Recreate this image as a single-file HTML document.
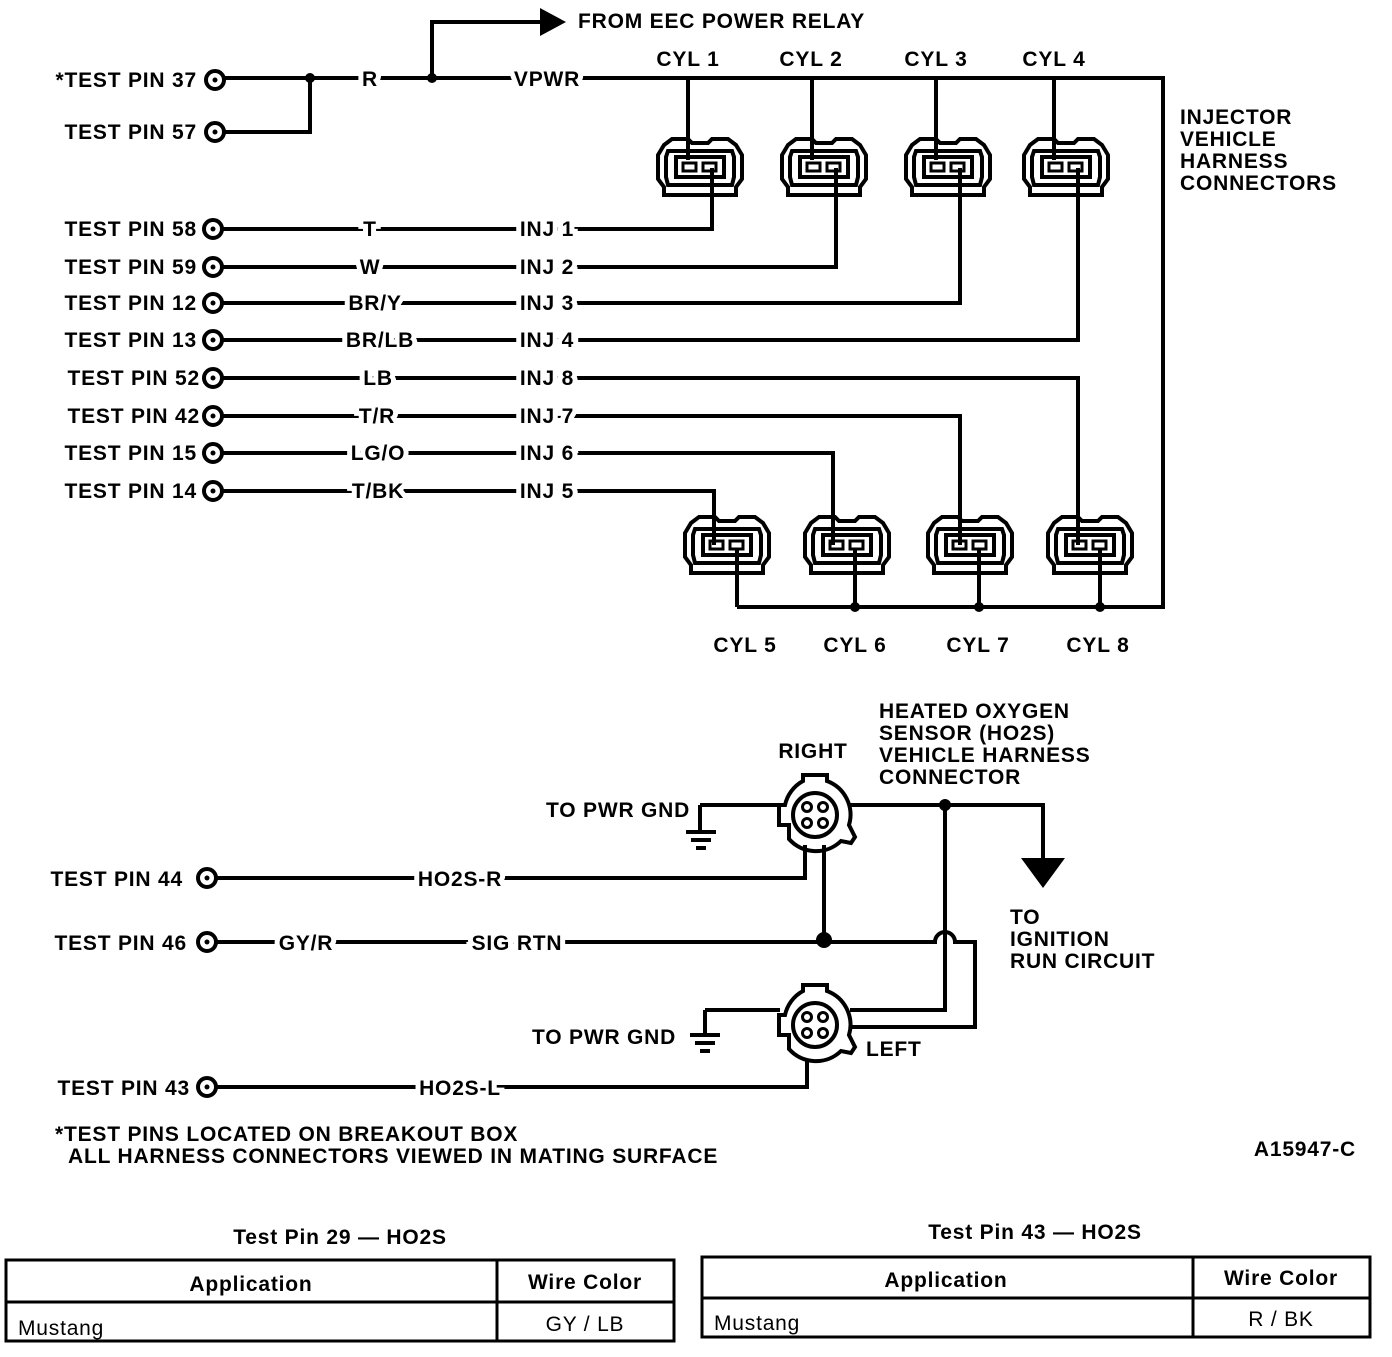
<!DOCTYPE html>
<html><head><meta charset="utf-8"><style>
body{margin:0;background:#fff}
svg text{font-family:"Liberation Sans",sans-serif;font-weight:bold;font-size:21px;letter-spacing:0.8px;fill:#000}
.lb{paint-order:stroke;stroke:#fff;stroke-width:10px}
</style></head><body>
<svg width="1392" height="1352" viewBox="0 0 1392 1352" xmlns="http://www.w3.org/2000/svg">
<defs>
<g id="pin"><circle r="9" fill="#fff" stroke="#000" stroke-width="4"/><circle r="2.5" fill="#000"/></g>
<g id="inj" fill="none" stroke="#000" stroke-width="4">
<path d="M-36,-22 L-28,-28 L-12,-28 L-8,-24 L8,-24 L12,-28 L28,-28 L36,-22 L42,-12 L42,12 L36,20 L36,28 L-36,28 L-36,20 L-42,12 L-42,-12 Z"/>
<path d="M-32,-16 L32,-16 L34,-10 L34,10 L32,18 L-32,18 L-34,10 L-34,-10 Z"/>
<rect x="-24" y="-10" width="48" height="20"/>
<rect x="-17" y="-4" width="13" height="8" stroke-width="3"/>
<rect x="3" y="-4" width="13" height="8" stroke-width="3"/>
</g>
<g id="ho2" fill="none" stroke="#000" stroke-width="4">
<path d="M-12,-34 L-12,-40 L12,-40 L12,-34 A36,36 0 0 1 34,10 L40,22 L36,28 L26,26 A36,36 0 0 1 -26,24 L-26,10 L-36,10 L-36,-10 L-30,-10 A36,36 0 0 1 -12,-34 Z"/>
<circle r="22"/>
<circle cx="-8" cy="-8" r="4.5" stroke-width="3"/><circle cx="8" cy="-8" r="4.5" stroke-width="3"/>
<circle cx="-8" cy="8" r="4.5" stroke-width="3"/><circle cx="8" cy="8" r="4.5" stroke-width="3"/>
</g>
</defs>
<g fill="none" stroke="#000" stroke-width="4">
<path d="M224,78 H1163 V607 H737"/>
<path d="M310,78 V132 H224"/>
<path d="M432,78 V22 H540"/>
<path d="M688,78 V160 M812,78 V160 M936,78 V160 M1054,78 V160"/>
<path d="M222,229 H712 V168 M222,267 H836 V168 M222,303 H960 V168 M222,340 H1078 V168"/>
<path d="M222,378 H1078 V545 M222,416 H960 V545 M222,453 H833 V545 M222,491 H714 V545"/>
<path d="M737,548 V607 M855,548 V607 M979,548 V607 M1100,548 V607"/>
<path d="M700,805 H780 M700,805 V832 M686,832 H716 M691,840 H711 M696,848 H706"/>
<path d="M850,805 H1043 V860"/>
<path d="M216,878 H805 V845"/>
<path d="M824,845 V940"/>
<path d="M216,942 H935 A10,10 0 0 1 955,942 H975 V1027 H850"/>
<path d="M945,805 V1010 H850"/>
<path d="M705,1010 H780 M705,1010 V1035 M690,1035 H720 M695,1043 H715 M700,1051 H710"/>
<path d="M216,1087 H807 V1060"/>
</g>
<path d="M540,8 L566,22 L540,36 Z"/>
<path d="M1021,858 L1065,858 L1043,888 Z"/>
<g fill="#000"><circle cx="310" cy="78" r="5"/><circle cx="432" cy="78" r="5"/>
<circle cx="855" cy="607" r="5"/><circle cx="979" cy="607" r="5"/><circle cx="1100" cy="607" r="5"/>
<circle cx="945" cy="805" r="6"/><circle cx="824" cy="940" r="8"/></g>
<use href="#inj" x="700" y="167"/><use href="#inj" x="824" y="167"/><use href="#inj" x="948" y="167"/><use href="#inj" x="1066" y="167"/>
<use href="#inj" x="727" y="545"/><use href="#inj" x="847" y="545"/><use href="#inj" x="970" y="545"/><use href="#inj" x="1090" y="545"/>
<use href="#ho2" x="815" y="815"/><use href="#ho2" x="815" y="1025"/>
<use href="#pin" x="215" y="80"/><use href="#pin" x="215" y="132"/>
<use href="#pin" x="213" y="229"/><use href="#pin" x="213" y="267"/><use href="#pin" x="213" y="303"/><use href="#pin" x="213" y="340"/>
<use href="#pin" x="213" y="378"/><use href="#pin" x="213" y="416"/><use href="#pin" x="213" y="453"/><use href="#pin" x="213" y="491"/>
<use href="#pin" x="207" y="878"/><use href="#pin" x="207" y="942"/><use href="#pin" x="207" y="1087"/>
<g text-anchor="end">
<text x="197" y="87">*TEST PIN 37</text><text x="197" y="139">TEST PIN 57</text>
<text x="197" y="236">TEST PIN 58</text><text x="197" y="274">TEST PIN 59</text>
<text x="197" y="310">TEST PIN 12</text><text x="197" y="347">TEST PIN 13</text>
<text x="200" y="385">TEST PIN 52</text><text x="200" y="423">TEST PIN 42</text>
<text x="197" y="460">TEST PIN 15</text><text x="197" y="498">TEST PIN 14</text>
<text x="183" y="886">TEST PIN 44</text><text x="187" y="950">TEST PIN 46</text><text x="190" y="1095">TEST PIN 43</text>
</g>
<g class="lb" text-anchor="middle">
<text x="370" y="86">R</text><text x="547" y="86">VPWR</text>
<text x="370" y="236">T</text><text x="370" y="274">W</text><text x="375" y="310">BR/Y</text><text x="380" y="347">BR/LB</text>
<text x="378" y="385">LB</text><text x="377" y="423">T/R</text><text x="378" y="460">LG/O</text><text x="378" y="498">T/BK</text>
<text x="547" y="236">INJ 1</text><text x="547" y="274">INJ 2</text><text x="547" y="310">INJ 3</text><text x="547" y="347">INJ 4</text>
<text x="547" y="385">INJ 8</text><text x="547" y="423">INJ 7</text><text x="547" y="460">INJ 6</text><text x="547" y="498">INJ 5</text>
<text x="460" y="886">HO2S-R</text><text x="306" y="950">GY/R</text><text x="517" y="950">SIG RTN</text><text x="460" y="1095">HO2S-L</text>
</g>
<text x="578" y="28">FROM EEC POWER RELAY</text>
<g text-anchor="middle">
<text x="688" y="66">CYL 1</text><text x="811" y="66">CYL 2</text><text x="936" y="66">CYL 3</text><text x="1054" y="66">CYL 4</text>
<text x="745" y="652">CYL 5</text><text x="855" y="652">CYL 6</text><text x="978" y="652">CYL 7</text><text x="1098" y="652">CYL 8</text>
<text x="813" y="758">RIGHT</text>
</g>
<text x="1180" y="124">INJECTOR</text><text x="1180" y="146">VEHICLE</text><text x="1180" y="168">HARNESS</text><text x="1180" y="190">CONNECTORS</text>
<text x="879" y="718">HEATED OXYGEN</text><text x="879" y="740">SENSOR (HO2S)</text><text x="879" y="762">VEHICLE HARNESS</text><text x="879" y="784">CONNECTOR</text>
<text x="546" y="817">TO PWR GND</text><text x="532" y="1044">TO PWR GND</text>
<text x="866" y="1056">LEFT</text>
<text x="1010" y="924">TO</text><text x="1010" y="946">IGNITION</text><text x="1010" y="968">RUN CIRCUIT</text>
<text x="55" y="1141">*TEST PINS LOCATED ON BREAKOUT BOX</text>
<text x="68" y="1163">ALL HARNESS CONNECTORS VIEWED IN MATING SURFACE</text>
<text x="1356" y="1156" text-anchor="end">A15947-C</text>
<text x="340" y="1244" text-anchor="middle" font-size="22">Test Pin 29 — HO2S</text>
<text x="1035" y="1239" text-anchor="middle" font-size="22">Test Pin 43 — HO2S</text>
<g fill="none" stroke="#000" stroke-width="3">
<rect x="6" y="1260" width="668" height="81"/><path d="M6,1302 H674 M497,1260 V1341"/>
<rect x="702" y="1257" width="668" height="80"/><path d="M702,1298 H1370 M1193,1257 V1337"/>
</g>
<g text-anchor="middle"><text x="251" y="1291">Application</text><text x="585" y="1289">Wire Color</text>
<text x="946" y="1287">Application</text><text x="1281" y="1285">Wire Color</text>
<text x="585" y="1331" style="font-weight:normal">GY / LB</text><text x="1281" y="1326" style="font-weight:normal">R / BK</text></g>
<text x="18" y="1335" style="font-weight:normal">Mustang</text><text x="714" y="1330" style="font-weight:normal">Mustang</text>
</svg>
</body></html>
